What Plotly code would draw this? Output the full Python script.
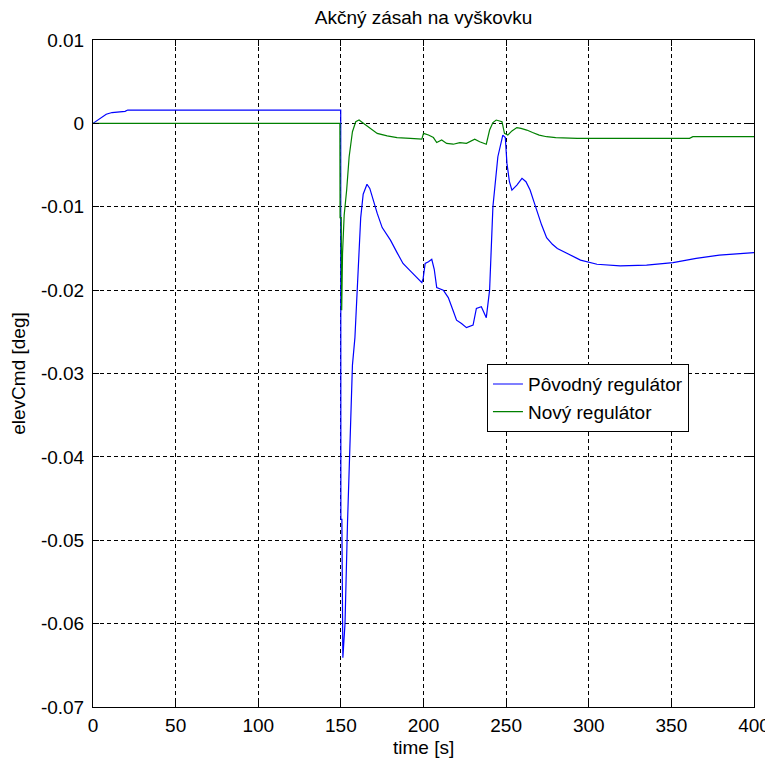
import plotly.graph_objects as go

# Pôvodný regulátor (blue)
t_old = [0, 2, 4, 6, 8, 11.5, 15, 19.4, 21, 40, 80, 120, 149.9, 150, 150.6, 151.2, 152.5, 154, 155.5, 157,
         158.5, 160, 162, 163.5, 165.8, 167.5, 169.5, 172, 175, 180, 184, 187.6, 192, 196, 199, 199.8,
         201, 203, 205, 206.5, 208, 212, 215, 218, 220, 223, 226, 230, 232, 235, 238, 240, 242, 245,
         248, 249.5, 250.5, 252, 253.5, 256.5, 259.6, 262, 264.5, 267, 269, 271.5, 274.5, 278, 281,
         287, 295, 305, 319, 335, 351, 365, 379, 400]
y_old = [0, 0.0003, 0.0006, 0.0009, 0.0011, 0.0013, 0.0014, 0.00145, 0.0016, 0.0016, 0.0016, 0.0016, 0.0016,
         -0.0475, -0.0475, -0.0641, -0.060, -0.048, -0.038, -0.029, -0.0257, -0.020, -0.0113, -0.0085,
         -0.0073, -0.0078, -0.0092, -0.0108, -0.0125, -0.014, -0.0155, -0.0168, -0.0177, -0.0185, -0.0191,
         -0.0186, -0.0168, -0.0166, -0.0163, -0.0175, -0.0197, -0.0200, -0.0209, -0.0225, -0.0236,
         -0.0240, -0.0245, -0.0242, -0.0222, -0.0220, -0.0233, -0.0200, -0.0100, -0.0040, -0.0014,
         -0.0017, -0.0048, -0.0070, -0.0080, -0.0074, -0.0066, -0.0070, -0.0080, -0.0095, -0.0108,
         -0.0122, -0.0137, -0.0145, -0.0150, -0.0156, -0.0164, -0.0169, -0.0171, -0.0170, -0.0167,
         -0.0162, -0.0158, -0.0155]

# Nový regulátor (green)
t_new = [0, 50, 100, 149.4, 149.5, 150.2, 150.5, 151, 152, 153.5, 155, 157, 159, 161, 163, 167, 172, 178,
         184, 192, 199, 200, 203, 206, 208, 211, 214, 218, 222, 226, 231, 234, 238, 240, 242, 244,
         247.5, 249, 251, 253.5, 256.5, 259, 262.5, 266, 270, 274.5, 280, 293, 330, 361, 363, 400]
y_new = [0, 0, 0, 0, -0.0113, -0.0113, -0.0224, -0.0156, -0.0110, -0.0080, -0.0040, -0.0010, 0.0002,
         0.0004, 0.0001, -0.0005, -0.0012, -0.0015, -0.0017, -0.0018, -0.0019, -0.0012, -0.0014, -0.0017,
         -0.0023, -0.0020, -0.0024, -0.0025, -0.0023, -0.0024, -0.0019, -0.0022, -0.0025, -0.0008,
         0.0001, 0.0004, 0.0002, -0.0012, -0.0014, -0.0009, -0.0005, -0.0006, -0.0008, -0.0011,
         -0.0014, -0.0016, -0.0017, -0.0018, -0.0018, -0.0018, -0.0016, -0.0016]

series_names = ["Pôvodný regulátor", "Nový regulátor"]
x_ticks = [0, 50, 100, 150, 200, 250, 300, 350, 400]
y_ticks = [0.01, 0, -0.01, -0.02, -0.03, -0.04, -0.05, -0.06, -0.07]
y_tick_text = ["0.01", "0", "-0.01", "-0.02", "-0.03", "-0.04", "-0.05", "-0.06", "-0.07"]

fig = go.Figure()
fig.add_trace(go.Scatter(x=t_old, y=y_old, mode="lines", name=series_names[0],
                         line=dict(color="#0000FF", width=1.2)))
fig.add_trace(go.Scatter(x=t_new, y=y_new, mode="lines", name=series_names[1],
                         line=dict(color="#008000", width=1.2)))

font = "Liberation Sans, Arial, sans-serif"
fs = 19
axis_common = dict(showgrid=True, gridcolor="black", griddash="4px,3px", gridwidth=1,
                   showline=True, linecolor="black", linewidth=1, mirror="ticks",
                   ticks="inside", ticklen=6, tickcolor="black", zeroline=False,
                   tickfont=dict(family=font, size=fs, color="black"))

H = 754
fig.update_layout(
    width=765, height=H,
    paper_bgcolor="white", plot_bgcolor="white",
    margin=dict(l=85, r=19, t=32, b=H - 699, autoexpand=False),
    title=dict(text="Akčný zásah na vyškovku", xref="paper", x=0.5, xanchor="center",
               y=1 - 9 / H, yanchor="middle", font=dict(family=font, size=fs, color="black")),
    showlegend=True,
    legend=dict(x=0.596, y=0.514, xanchor="left", yanchor="top", bgcolor="white",
                bordercolor="black", borderwidth=1, font=dict(family=font, size=fs, color="black"),
                tracegroupgap=0),
    annotations=[dict(text="time [s]", xref="paper", yref="paper", x=0.5, y=-40 / 667,
                      xanchor="center", yanchor="middle", showarrow=False,
                      font=dict(family=font, size=fs, color="black"))],
)
fig.update_xaxes(range=[0, 400], tickvals=x_ticks, ticklabelstandoff=1, ticklabeloverflow="allow",
                 **axis_common)
fig.update_yaxes(range=[-0.07, 0.01], tickvals=y_ticks, ticktext=y_tick_text, ticklabelstandoff=4,
                 title=dict(text="elevCmd [deg]", standoff=12, font=dict(family=font, size=fs, color="black")),
                 **axis_common)

fig.write_html("out.html")
